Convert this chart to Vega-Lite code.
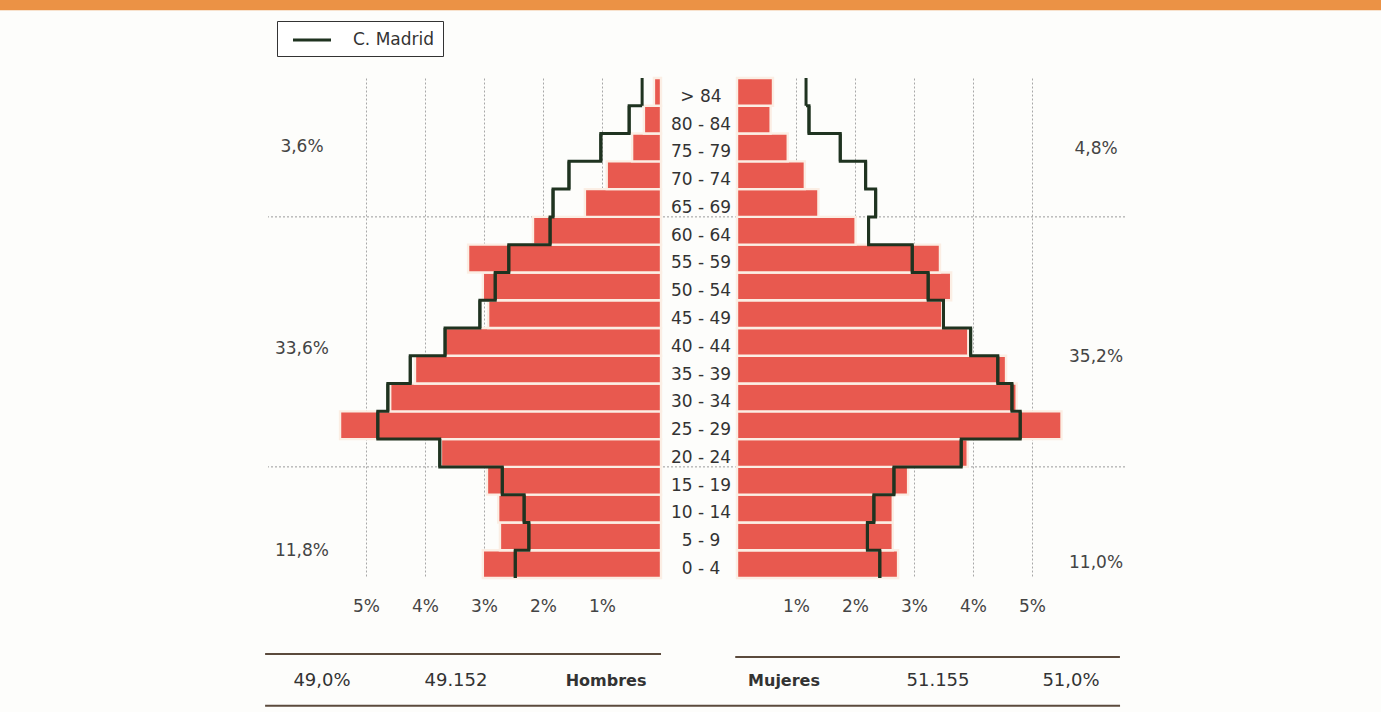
{
  "$schema": "https://vega.github.io/schema/vega-lite/v6.json",
  "width": 857,
  "height": 500,
  "padding": {"left": 268, "top": 78, "right": 256, "bottom": 134},
  "autosize": {"type": "none"},
  "background": "#fdfdfb",
  "config": {"view": {"stroke": null}, "font": "DejaVu Sans"},
  "datasets": {
    "piramide": [
      {"edad": "0 - 4", "edad_min": 0, "edad_max": 5, "hombres": 3.02, "mujeres": 2.73, "madrid_h": 2.47, "madrid_m": 2.42, "serie": "C. Madrid"},
      {"edad": "5 - 9", "edad_min": 5, "edad_max": 10, "hombres": 2.73, "mujeres": 2.64, "madrid_h": 2.24, "madrid_m": 2.21, "serie": "C. Madrid"},
      {"edad": "10 - 14", "edad_min": 10, "edad_max": 15, "hombres": 2.76, "mujeres": 2.64, "madrid_h": 2.32, "madrid_m": 2.32, "serie": "C. Madrid"},
      {"edad": "15 - 19", "edad_min": 15, "edad_max": 20, "hombres": 2.95, "mujeres": 2.9, "madrid_h": 2.69, "madrid_m": 2.66, "serie": "C. Madrid"},
      {"edad": "20 - 24", "edad_min": 20, "edad_max": 25, "hombres": 3.73, "mujeres": 3.91, "madrid_h": 3.75, "madrid_m": 3.8, "serie": "C. Madrid"},
      {"edad": "25 - 29", "edad_min": 25, "edad_max": 30, "hombres": 5.44, "mujeres": 5.5, "madrid_h": 4.8, "madrid_m": 4.8, "serie": "C. Madrid"},
      {"edad": "30 - 34", "edad_min": 30, "edad_max": 35, "hombres": 4.59, "mujeres": 4.74, "madrid_h": 4.63, "madrid_m": 4.66, "serie": "C. Madrid"},
      {"edad": "35 - 39", "edad_min": 35, "edad_max": 40, "hombres": 4.17, "mujeres": 4.56, "madrid_h": 4.25, "madrid_m": 4.42, "serie": "C. Madrid"},
      {"edad": "40 - 44", "edad_min": 40, "edad_max": 45, "hombres": 3.66, "mujeres": 3.92, "madrid_h": 3.66, "madrid_m": 3.96, "serie": "C. Madrid"},
      {"edad": "45 - 49", "edad_min": 45, "edad_max": 50, "hombres": 2.93, "mujeres": 3.48, "madrid_h": 3.07, "madrid_m": 3.5, "serie": "C. Madrid"},
      {"edad": "50 - 54", "edad_min": 50, "edad_max": 55, "hombres": 3.02, "mujeres": 3.63, "madrid_h": 2.81, "madrid_m": 3.24, "serie": "C. Madrid"},
      {"edad": "55 - 59", "edad_min": 55, "edad_max": 60, "hombres": 3.27, "mujeres": 3.44, "madrid_h": 2.58, "madrid_m": 2.97, "serie": "C. Madrid"},
      {"edad": "60 - 64", "edad_min": 60, "edad_max": 65, "hombres": 2.17, "mujeres": 2.01, "madrid_h": 1.88, "madrid_m": 2.23, "serie": "C. Madrid"},
      {"edad": "65 - 69", "edad_min": 65, "edad_max": 70, "hombres": 1.29, "mujeres": 1.38, "madrid_h": 1.83, "madrid_m": 2.35, "serie": "C. Madrid"},
      {"edad": "70 - 74", "edad_min": 70, "edad_max": 75, "hombres": 0.92, "mujeres": 1.15, "madrid_h": 1.56, "madrid_m": 2.18, "serie": "C. Madrid"},
      {"edad": "75 - 79", "edad_min": 75, "edad_max": 80, "hombres": 0.49, "mujeres": 0.86, "madrid_h": 1.02, "madrid_m": 1.75, "serie": "C. Madrid"},
      {"edad": "80 - 84", "edad_min": 80, "edad_max": 85, "hombres": 0.29, "mujeres": 0.57, "madrid_h": 0.54, "madrid_m": 1.22, "serie": "C. Madrid"},
      {"edad": "> 84", "edad_min": 85, "edad_max": 90, "hombres": 0.12, "mujeres": 0.61, "madrid_h": 0.32, "madrid_m": 1.17, "serie": "C. Madrid"}
    ]
  },
  "resolve": {"scale": {"x": "independent"}},
  "layer": [
    {
      "data": {"values": [{"banda": "cabecera"}]},
      "mark": {"type": "rect", "color": "#eb9245"},
      "encoding": {
        "x": {"datum": 11.4, "type": "quantitative", "scale": {"domain": [-7.864, 6.661], "reverse": true, "nice": false, "zero": false}, "axis": null},
        "x2": {"datum": -12.4},
        "y": {"datum": 104.5, "type": "quantitative", "scale": {"domain": [0, 90], "nice": false, "zero": false}, "axis": null},
        "y2": {"datum": 102.2}
      }
    },
    {
      "data": {"values": [{"limite": 20}, {"limite": 65}]},
      "mark": {"type": "rule", "color": "#9a9a9a", "strokeWidth": 1, "strokeDash": [2, 2]},
      "encoding": {
        "y": {"field": "limite", "type": "quantitative", "scale": {"domain": [0, 90], "nice": false, "zero": false}, "axis": null}
      }
    },
    {
      "data": {"name": "piramide"},
      "mark": {"type": "rect", "fill": "#e8594f", "stroke": "#fbeee4", "strokeWidth": 2.4},
      "encoding": {
        "x": {"field": "hombres", "type": "quantitative", "scale": {"domain": [-7.864, 6.661], "reverse": true, "nice": false, "zero": false},
          "axis": {"orient": "bottom", "values": [1, 2, 3, 4, 5], "labelExpr": "datum.value + '%'", "domain": false, "ticks": false, "tickSize": 0, "labelPadding": 20, "labelFont": "DejaVu Sans", "labelFontSize": 17, "labelColor": "#444", "grid": true, "gridColor": "#a8a8a8", "gridDash": [2, 2], "gridWidth": 1, "title": null}},
        "x2": {"datum": 0},
        "y": {"field": "edad_min", "type": "quantitative", "scale": {"domain": [0, 90], "nice": false, "zero": false}, "axis": null},
        "y2": {"field": "edad_max"}
      }
    },
    {
      "data": {"name": "piramide"},
      "mark": {"type": "rect", "fill": "#e8594f", "stroke": "#fbeee4", "strokeWidth": 2.4},
      "encoding": {
        "x": {"field": "mujeres", "type": "quantitative", "scale": {"domain": [-7.949, 6.576], "nice": false, "zero": false},
          "axis": {"orient": "bottom", "values": [1, 2, 3, 4, 5], "labelExpr": "datum.value + '%'", "domain": false, "ticks": false, "tickSize": 0, "labelPadding": 20, "labelFont": "DejaVu Sans", "labelFontSize": 17, "labelColor": "#444", "grid": true, "gridColor": "#a8a8a8", "gridDash": [2, 2], "gridWidth": 1, "title": null}},
        "x2": {"datum": 0},
        "y": {"field": "edad_min", "type": "quantitative", "scale": {"domain": [0, 90], "nice": false, "zero": false}, "axis": null},
        "y2": {"field": "edad_max"}
      }
    },
    {
      "data": {"name": "piramide"},
      "mark": {"type": "line", "interpolate": "step-before", "strokeWidth": 3, "strokeJoin": "miter"},
      "encoding": {
        "x": {"field": "madrid_h", "type": "quantitative", "scale": {"domain": [-7.864, 6.661], "reverse": true, "nice": false, "zero": false}, "axis": null},
        "y": {"field": "edad_min", "type": "quantitative", "scale": {"domain": [0, 90], "nice": false, "zero": false}, "axis": null},
        "order": {"field": "edad_min", "type": "quantitative"},
        "color": {"field": "serie", "type": "nominal", "scale": {"domain": ["C. Madrid"], "range": ["#1f3320"]},
          "legend": {"orient": "none", "legendX": 9, "legendY": -57, "title": null, "symbolType": "M-2,0H2", "symbolSize": 361, "symbolStrokeWidth": 3, "symbolFillColor": "transparent", "symbolOffset": 16, "labelOffset": 30, "padding": 8, "strokeColor": "#333", "fillColor": "#ffffff", "labelFont": "DejaVu Sans", "labelFontSize": 17, "labelColor": "#333"}}
      }
    },
    {
      "data": {"name": "piramide"},
      "mark": {"type": "rule", "strokeWidth": 3},
      "encoding": {
        "x": {"field": "madrid_h", "type": "quantitative", "scale": {"domain": [-7.864, 6.661], "reverse": true, "nice": false, "zero": false}, "axis": null},
        "y": {"field": "edad_min", "type": "quantitative", "scale": {"domain": [0, 90], "nice": false, "zero": false}, "axis": null},
        "y2": {"field": "edad_max"},
        "color": {"field": "serie", "type": "nominal"}
      }
    },
    {
      "data": {"name": "piramide"},
      "mark": {"type": "line", "interpolate": "step-before", "strokeWidth": 3, "strokeJoin": "miter", "color": "#1f3320"},
      "encoding": {
        "x": {"field": "madrid_m", "type": "quantitative", "scale": {"domain": [-7.949, 6.576], "nice": false, "zero": false}, "axis": null},
        "y": {"field": "edad_min", "type": "quantitative", "scale": {"domain": [0, 90], "nice": false, "zero": false}, "axis": null},
        "order": {"field": "edad_min", "type": "quantitative"}
      }
    },
    {
      "data": {"name": "piramide"},
      "mark": {"type": "rule", "strokeWidth": 3, "color": "#1f3320"},
      "encoding": {
        "x": {"field": "madrid_m", "type": "quantitative", "scale": {"domain": [-7.949, 6.576], "nice": false, "zero": false}, "axis": null},
        "y": {"field": "edad_min", "type": "quantitative", "scale": {"domain": [0, 90], "nice": false, "zero": false}, "axis": null},
        "y2": {"field": "edad_max"}
      }
    },
    {
      "data": {"name": "piramide"},
      "mark": {"type": "text", "font": "DejaVu Sans", "fontSize": 17, "color": "#333", "baseline": "middle", "align": "center", "dy": -9},
      "encoding": {
        "x": {"datum": -0.61, "type": "quantitative", "scale": {"domain": [-7.949, 6.576], "nice": false, "zero": false}, "axis": null},
        "y": {"field": "edad_min", "type": "quantitative", "scale": {"domain": [0, 90], "nice": false, "zero": false}, "axis": null},
        "text": {"field": "edad"}
      }
    },
    {
      "data": {"values": [{"texto": "3,6%"}]},
      "mark": {"type": "text", "font": "DejaVu Sans", "fontSize": 17, "color": "#444", "baseline": "middle"},
      "encoding": {
        "x": {"datum": 6.085, "type": "quantitative", "scale": {"domain": [-7.864, 6.661], "reverse": true, "nice": false, "zero": false}, "axis": null},
        "y": {"datum": 77.6, "type": "quantitative", "scale": {"domain": [0, 90], "nice": false, "zero": false}, "axis": null},
        "text": {"field": "texto"}
      }
    },
    {
      "data": {"values": [{"texto": "33,6%"}]},
      "mark": {"type": "text", "font": "DejaVu Sans", "fontSize": 17, "color": "#444", "baseline": "middle"},
      "encoding": {
        "x": {"datum": 6.085, "type": "quantitative", "scale": {"domain": [-7.864, 6.661], "reverse": true, "nice": false, "zero": false}, "axis": null},
        "y": {"datum": 41.2, "type": "quantitative", "scale": {"domain": [0, 90], "nice": false, "zero": false}, "axis": null},
        "text": {"field": "texto"}
      }
    },
    {
      "data": {"values": [{"texto": "11,8%"}]},
      "mark": {"type": "text", "font": "DejaVu Sans", "fontSize": 17, "color": "#444", "baseline": "middle"},
      "encoding": {
        "x": {"datum": 6.085, "type": "quantitative", "scale": {"domain": [-7.864, 6.661], "reverse": true, "nice": false, "zero": false}, "axis": null},
        "y": {"datum": 4.9, "type": "quantitative", "scale": {"domain": [0, 90], "nice": false, "zero": false}, "axis": null},
        "text": {"field": "texto"}
      }
    },
    {
      "data": {"values": [{"texto": "4,8%"}]},
      "mark": {"type": "text", "font": "DejaVu Sans", "fontSize": 17, "color": "#444", "baseline": "middle"},
      "encoding": {
        "x": {"datum": 6.085, "type": "quantitative", "scale": {"domain": [-7.949, 6.576], "nice": false, "zero": false}, "axis": null},
        "y": {"datum": 77.2, "type": "quantitative", "scale": {"domain": [0, 90], "nice": false, "zero": false}, "axis": null},
        "text": {"field": "texto"}
      }
    },
    {
      "data": {"values": [{"texto": "35,2%"}]},
      "mark": {"type": "text", "font": "DejaVu Sans", "fontSize": 17, "color": "#444", "baseline": "middle"},
      "encoding": {
        "x": {"datum": 6.085, "type": "quantitative", "scale": {"domain": [-7.949, 6.576], "nice": false, "zero": false}, "axis": null},
        "y": {"datum": 39.8, "type": "quantitative", "scale": {"domain": [0, 90], "nice": false, "zero": false}, "axis": null},
        "text": {"field": "texto"}
      }
    },
    {
      "data": {"values": [{"texto": "11,0%"}]},
      "mark": {"type": "text", "font": "DejaVu Sans", "fontSize": 17, "color": "#444", "baseline": "middle"},
      "encoding": {
        "x": {"datum": 6.085, "type": "quantitative", "scale": {"domain": [-7.949, 6.576], "nice": false, "zero": false}, "axis": null},
        "y": {"datum": 2.7, "type": "quantitative", "scale": {"domain": [0, 90], "nice": false, "zero": false}, "axis": null},
        "text": {"field": "texto"}
      }
    },
    {
      "data": {"values": [{"texto": "49,0%"}]},
      "mark": {"type": "text", "font": "DejaVu Sans", "fontSize": 18, "color": "#333", "baseline": "middle"},
      "encoding": {
        "x": {"datum": 5.746, "type": "quantitative", "scale": {"domain": [-7.864, 6.661], "reverse": true, "nice": false, "zero": false}, "axis": null},
        "y": {"datum": -18.5, "type": "quantitative", "scale": {"domain": [0, 90], "nice": false, "zero": false}, "axis": null},
        "text": {"field": "texto"}
      }
    },
    {
      "data": {"values": [{"texto": "49.152"}]},
      "mark": {"type": "text", "font": "DejaVu Sans", "fontSize": 18, "color": "#333", "baseline": "middle"},
      "encoding": {
        "x": {"datum": 3.475, "type": "quantitative", "scale": {"domain": [-7.864, 6.661], "reverse": true, "nice": false, "zero": false}, "axis": null},
        "y": {"datum": -18.5, "type": "quantitative", "scale": {"domain": [0, 90], "nice": false, "zero": false}, "axis": null},
        "text": {"field": "texto"}
      }
    },
    {
      "data": {"values": [{"texto": "Hombres"}]},
      "mark": {"type": "text", "font": "DejaVu Sans", "fontSize": 16, "fontWeight": "bold", "color": "#333", "baseline": "middle"},
      "encoding": {
        "x": {"datum": 0.932, "type": "quantitative", "scale": {"domain": [-7.864, 6.661], "reverse": true, "nice": false, "zero": false}, "axis": null},
        "y": {"datum": -18.5, "type": "quantitative", "scale": {"domain": [0, 90], "nice": false, "zero": false}, "axis": null},
        "text": {"field": "texto"}
      }
    },
    {
      "data": {"values": [{"texto": "Mujeres"}]},
      "mark": {"type": "text", "font": "DejaVu Sans", "fontSize": 16, "fontWeight": "bold", "color": "#333", "baseline": "middle"},
      "encoding": {
        "x": {"datum": 0.797, "type": "quantitative", "scale": {"domain": [-7.949, 6.576], "nice": false, "zero": false}, "axis": null},
        "y": {"datum": -18.5, "type": "quantitative", "scale": {"domain": [0, 90], "nice": false, "zero": false}, "axis": null},
        "text": {"field": "texto"}
      }
    },
    {
      "data": {"values": [{"texto": "51.155"}]},
      "mark": {"type": "text", "font": "DejaVu Sans", "fontSize": 18, "color": "#333", "baseline": "middle"},
      "encoding": {
        "x": {"datum": 3.407, "type": "quantitative", "scale": {"domain": [-7.949, 6.576], "nice": false, "zero": false}, "axis": null},
        "y": {"datum": -18.5, "type": "quantitative", "scale": {"domain": [0, 90], "nice": false, "zero": false}, "axis": null},
        "text": {"field": "texto"}
      }
    },
    {
      "data": {"values": [{"texto": "51,0%"}]},
      "mark": {"type": "text", "font": "DejaVu Sans", "fontSize": 18, "color": "#333", "baseline": "middle"},
      "encoding": {
        "x": {"datum": 5.661, "type": "quantitative", "scale": {"domain": [-7.949, 6.576], "nice": false, "zero": false}, "axis": null},
        "y": {"datum": -18.5, "type": "quantitative", "scale": {"domain": [0, 90], "nice": false, "zero": false}, "axis": null},
        "text": {"field": "texto"}
      }
    },
    {
      "data": {"values": [{"linea": "hombres"}]},
      "mark": {"type": "rule", "color": "#5b4a3c", "strokeWidth": 2},
      "encoding": {
        "x": {"datum": 6.71, "type": "quantitative", "scale": {"domain": [-7.864, 6.661], "reverse": true, "nice": false, "zero": false}, "axis": null},
        "x2": {"datum": 0},
        "y": {"datum": -13.7, "type": "quantitative", "scale": {"domain": [0, 90], "nice": false, "zero": false}, "axis": null}
      }
    },
    {
      "data": {"values": [{"linea": "mujeres"}]},
      "mark": {"type": "rule", "color": "#5b4a3c", "strokeWidth": 2},
      "encoding": {
        "x": {"datum": -0.03, "type": "quantitative", "scale": {"domain": [-7.949, 6.576], "nice": false, "zero": false}, "axis": null},
        "x2": {"datum": 6.49},
        "y": {"datum": -14.2, "type": "quantitative", "scale": {"domain": [0, 90], "nice": false, "zero": false}, "axis": null}
      }
    },
    {
      "data": {"values": [{"linea": "pie"}]},
      "mark": {"type": "rule", "color": "#5b4a3c", "strokeWidth": 2},
      "encoding": {
        "x": {"datum": 6.71, "type": "quantitative", "scale": {"domain": [-7.864, 6.661], "reverse": true, "nice": false, "zero": false}, "axis": null},
        "x2": {"datum": -7.78},
        "y": {"datum": -23.0, "type": "quantitative", "scale": {"domain": [0, 90], "nice": false, "zero": false}, "axis": null}
      }
    }
  ]
}
